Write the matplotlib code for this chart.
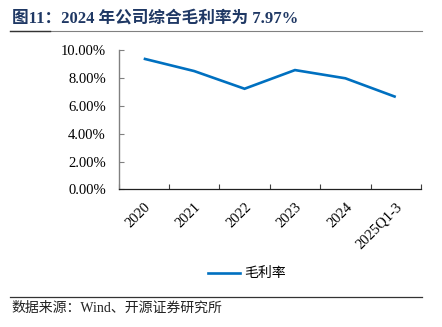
import matplotlib
matplotlib.use("Agg")
import matplotlib.pyplot as plt
from matplotlib.lines import Line2D
from matplotlib.ticker import FuncFormatter

plt.rcParams['font.family'] = ['Liberation Serif', 'Noto Sans CJK SC', 'DejaVu Sans']

categories = ["2020", "2021", "2022", "2023", "2024", "2025Q1-3"]
gross_margin = [9.38, 8.49, 7.22, 8.56, 7.97, 6.63]
yticks = [0, 2, 4, 6, 8, 10]

W, H = 442, 327
fig = plt.figure(figsize=(W / 100, H / 100), dpi=100)

ax = fig.add_axes([118.5 / W, 1 - 189.4 / H, (421 - 118.5) / W, (189.4 - 50) / H])
x = list(range(len(categories)))
ax.plot(x, gross_margin, color="#0070C0", lw=1.9, solid_capstyle='butt', solid_joinstyle='miter')
ax.set_xlim(-0.5, len(categories) - 0.5)
ax.set_ylim(0, 10)
ax.set_yticks(yticks)
ax.yaxis.set_major_formatter(FuncFormatter(lambda v, p: f"{v:.2f}%"))
ax.tick_params(axis='y', direction='in', length=3.5, width=0.8, color="#808080",
               labelsize=10.5, pad=9)
ax.set_xticks([i - 0.5 for i in range(len(categories) + 1)])
ax.set_xticklabels([])
ax.set_xticks(x, minor=True)
ax.set_xticklabels(categories, minor=True, rotation=45, ha='right', va='top',
                   rotation_mode='anchor', fontsize=10.5)
ax.tick_params(axis='x', which='major', direction='in', length=3.5, width=0.8, color="#404040")
ax.tick_params(axis='x', which='minor', length=0, pad=8)
for s in ['top', 'right']:
    ax.spines[s].set_visible(False)
ax.spines['left'].set_color("#808080")
ax.spines['left'].set_linewidth(1.0)
ax.spines['bottom'].set_color("#202020")
ax.spines['bottom'].set_linewidth(0.9)

# Title
fig.text(12 / W, 1 - 18 / H, "图11：2024 年公司综合毛利率为 7.97%", fontsize=12,
         fontweight='bold', color="#1F3864", va='center', ha='left')
fig.add_artist(Line2D([10 / W, 422 / W], [1 - 31 / H, 1 - 31 / H], color="#808080", lw=0.8))
fig.add_artist(Line2D([10 / W, 50 / W], [1 - 31 / H, 1 - 31 / H], color="#333333", lw=1.0))

# Legend
fig.add_artist(Line2D([208 / W, 240 / W], [1 - 273 / H, 1 - 273 / H], color="#0070C0", lw=1.9))
fig.text(244 / W, 1 - 273 / H, "毛利率", fontsize=10, va='center', ha='left')

# Footer
fig.add_artist(Line2D([10 / W, 422 / W], [1 - 297 / H, 1 - 297 / H], color="#333333", lw=0.9))
fig.text(11 / W, 1 - 308 / H, "数据来源：Wind、开源证券研究所", fontsize=10, va='center', ha='left',
         color="#222222")

fig.savefig("out.png", dpi=100)
